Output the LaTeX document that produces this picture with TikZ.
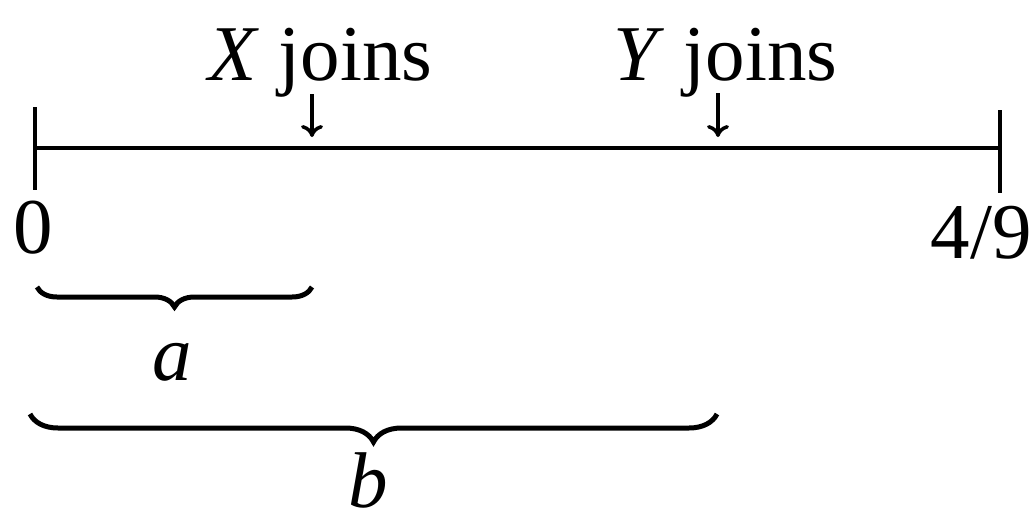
\documentclass[tikz,border=0pt]{standalone}
\usepackage{fontspec}
\setmainfont{Liberation Serif}
\usetikzlibrary{arrows.meta,decorations.pathreplacing}

\begin{document}
\begin{tikzpicture}[
    x=1pt, y=-1pt,
    font=\fontsize{79}{95}\selectfont,
    axis/.style={line width=4.5pt, draw=black},
    tick/.style={line width=3.5pt, draw=black},
    pointer/.style={-{To[length=12pt,width=22pt,line width=3.5pt]}, line width=3.5pt},
    lbl/.style={inner sep=0pt},
    brc/.style={decorate, line width=5pt,
        decoration={brace, mirror, amplitude=#1}},
]
\useasboundingbox (0,0) rectangle (1034,523);

% ---- time axis ----
\coordinate (start) at (35,148);
\coordinate (finish) at (1000,148);
\coordinate (starttop) at (35,107);
\coordinate (startbot) at (35,190);
\coordinate (finishtop) at (1000,110);
\coordinate (finishbot) at (1000,193);
\draw[axis] (start) -- (finish);
\draw[tick] (starttop) -- (startbot);
\draw[tick] (finishtop) -- (finishbot);

\node[lbl, anchor=base] (zero) at (33,253) {0};
\node[lbl, anchor=base east] (end) at (1032,258) {4/9};

% ---- joining times ----
\node[lbl, anchor=base west] (xjoin) at (208,80) {\textit{X} joins};
\node[lbl, anchor=base west] (yjoin) at (613,80) {\textit{Y} joins};
\coordinate (xtop) at (312,94);
\coordinate (xbot) at (312,137);
\coordinate (ytop) at (718,93);
\coordinate (ybot) at (718,137);
\draw[pointer] (xtop) -- (xbot);
\draw[pointer] (ytop) -- (ybot);

% ---- braces ----
\coordinate (aleft) at (37,287);
\coordinate (aright) at (312,287);
\coordinate (bleft) at (30,414);
\coordinate (bright) at (717,414);
\draw[brc=20pt] (aleft) -- (aright);
\draw[brc=28pt] (bleft) -- (bright);
\node[lbl] (alabel) at (172,362) {\textit{a}};
\node[lbl] (blabel) at (368,480) {\textit{b}};

\end{tikzpicture}
\end{document}
